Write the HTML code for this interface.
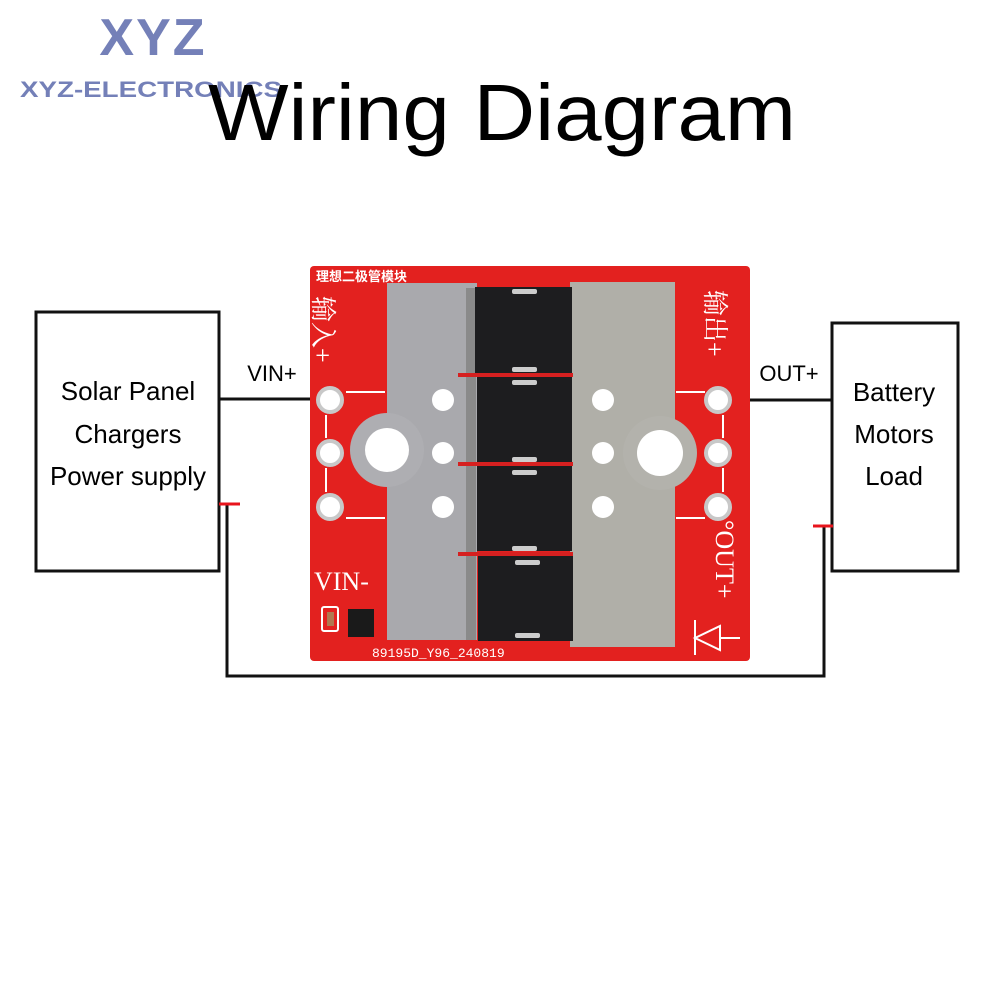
<!DOCTYPE html>
<html><head><meta charset="utf-8"><style>
html,body{margin:0;padding:0;background:#fff;width:1000px;height:1000px;overflow:hidden}
svg{display:block}
</style></head><body>
<svg width="1000" height="1000" viewBox="0 0 1000 1000" xmlns="http://www.w3.org/2000/svg">
<rect width="1000" height="1000" fill="#fff"/>
<!-- logo -->
<text x="153" y="55" text-anchor="middle" font-family="Liberation Sans, sans-serif" font-weight="bold" font-size="52" fill="#7480b8" letter-spacing="2">XYZ</text>
<text x="20" y="97" font-family="Liberation Sans, sans-serif" font-weight="bold" font-size="22" fill="#7480b8" textLength="262" lengthAdjust="spacingAndGlyphs">XYZ-ELECTRONICS</text>
<!-- title -->
<text x="208" y="140" font-family="Liberation Sans, sans-serif" font-size="80" fill="#000" textLength="588" lengthAdjust="spacingAndGlyphs">Wiring Diagram</text>

<!-- boxes -->
<rect x="36" y="312" width="183" height="259" fill="none" stroke="#111" stroke-width="3"/>
<rect x="832" y="323" width="126" height="248" fill="none" stroke="#111" stroke-width="3"/>
<g font-family="Liberation Sans, sans-serif" font-size="26" fill="#000" text-anchor="middle">
<text x="128" y="400">Solar Panel</text>
<text x="128" y="443">Chargers</text>
<text x="128" y="485">Power supply</text>
<text x="894" y="401">Battery</text>
<text x="894" y="443">Motors</text>
<text x="894" y="485">Load</text>
<text x="272" y="381" font-size="22">VIN+</text>
<text x="789" y="381" font-size="22">OUT+</text>
</g>
<!-- wires -->
<g stroke="#111" stroke-width="3" fill="none">
<line x1="219" y1="399" x2="318" y2="399"/>
<line x1="732" y1="400" x2="832" y2="400"/>
<polyline points="227,504 227,676 824,676 824,526"/>
</g>
<line x1="219" y1="504" x2="240" y2="504" stroke="#e8141c" stroke-width="3"/>
<line x1="813" y1="526" x2="833" y2="526" stroke="#e8141c" stroke-width="3"/>

<!-- board -->
<rect x="310" y="266" width="440" height="395" rx="4" fill="#e3211f"/>
<rect x="387" y="283" width="90" height="357" fill="#a9a9ad"/>
<rect x="570" y="282" width="105" height="365" fill="#b0afa8"/>
<circle cx="387" cy="450" r="37" fill="#aeaeb2"/>
<circle cx="660" cy="453" r="37" fill="#b3b2ac"/>
<rect x="466" y="288" width="10" height="352" fill="#8a8a8a"/>
<g fill="#1d1d1f">
<rect x="475" y="287" width="97" height="86"/>
<rect x="477" y="377" width="95" height="85"/>
<rect x="477" y="466" width="95" height="85"/>
<rect x="478" y="556" width="95" height="85"/>
</g>
<g fill="#d62020">
<rect x="458" y="373" width="115" height="4"/>
<rect x="458" y="462" width="115" height="4"/>
<rect x="458" y="552" width="115" height="4"/>
</g>
<g fill="#ccc">
<rect x="512" y="289" width="25" height="5" rx="2"/><rect x="512" y="367" width="25" height="5" rx="2"/>
<rect x="512" y="380" width="25" height="5" rx="2"/><rect x="512" y="457" width="25" height="5" rx="2"/>
<rect x="512" y="470" width="25" height="5" rx="2"/><rect x="512" y="546" width="25" height="5" rx="2"/>
<rect x="515" y="560" width="25" height="5" rx="2"/><rect x="515" y="633" width="25" height="5" rx="2"/>
</g>
<g fill="#fff" stroke="#c8c8c8" stroke-width="4">
<circle cx="330" cy="400" r="12"/><circle cx="330" cy="453" r="12"/><circle cx="330" cy="507" r="12"/>
<circle cx="718" cy="400" r="12"/><circle cx="718" cy="453" r="12"/><circle cx="718" cy="507" r="12"/>
</g>
<g fill="#fff">
<circle cx="387" cy="450" r="22"/><circle cx="660" cy="453" r="23"/>
<circle cx="443" cy="400" r="11"/><circle cx="443" cy="453" r="11"/><circle cx="443" cy="507" r="11"/>
<circle cx="603" cy="400" r="11"/><circle cx="603" cy="453" r="11"/><circle cx="603" cy="507" r="11"/>
</g>
<g fill="#fff" font-family="Liberation Serif, 'Noto Serif CJK SC', serif">
<text x="316" y="281" font-size="13" font-family="Liberation Sans, 'Noto Sans CJK SC', sans-serif" font-weight="bold">理想二极管模块</text>
<text x="314" y="590" font-size="26">VIN-</text>
<text x="372" y="657" font-size="13" font-family="Liberation Mono, monospace">89195D_Y96_240819</text>
</g>
<text transform="translate(716,520) rotate(90)" fill="#fff" font-family="Liberation Serif, serif" font-size="26">°OUT+</text>
<text transform="translate(314,296) rotate(90)" fill="#fff" font-family="Liberation Serif,'Noto Serif CJK SC', serif" font-size="26">输入+</text>
<text transform="translate(706,290) rotate(90)" fill="#fff" font-family="Liberation Serif,'Noto Serif CJK SC', serif" font-size="26">输出+</text>
<g stroke="#fff" stroke-width="2" fill="none">
<line x1="346" y1="392" x2="385" y2="392"/><line x1="346" y1="518" x2="385" y2="518"/>
<line x1="676" y1="392" x2="705" y2="392"/><line x1="676" y1="518" x2="705" y2="518"/>
<line x1="326" y1="415" x2="326" y2="438"/><line x1="326" y1="468" x2="326" y2="492"/>
<line x1="723" y1="415" x2="723" y2="438"/><line x1="723" y1="468" x2="723" y2="492"/>
<path d="M695 620 L695 655 M695 638 L720 626 L720 650 Z M720 638 L740 638"/>
</g>
<rect x="322" y="607" width="16" height="24" rx="2" fill="none" stroke="#fff" stroke-width="2"/>
<rect x="327" y="612" width="7" height="14" fill="#b07850"/>
<rect x="348" y="609" width="26" height="28" fill="#1a1a1a"/>
</svg>
</body></html>
